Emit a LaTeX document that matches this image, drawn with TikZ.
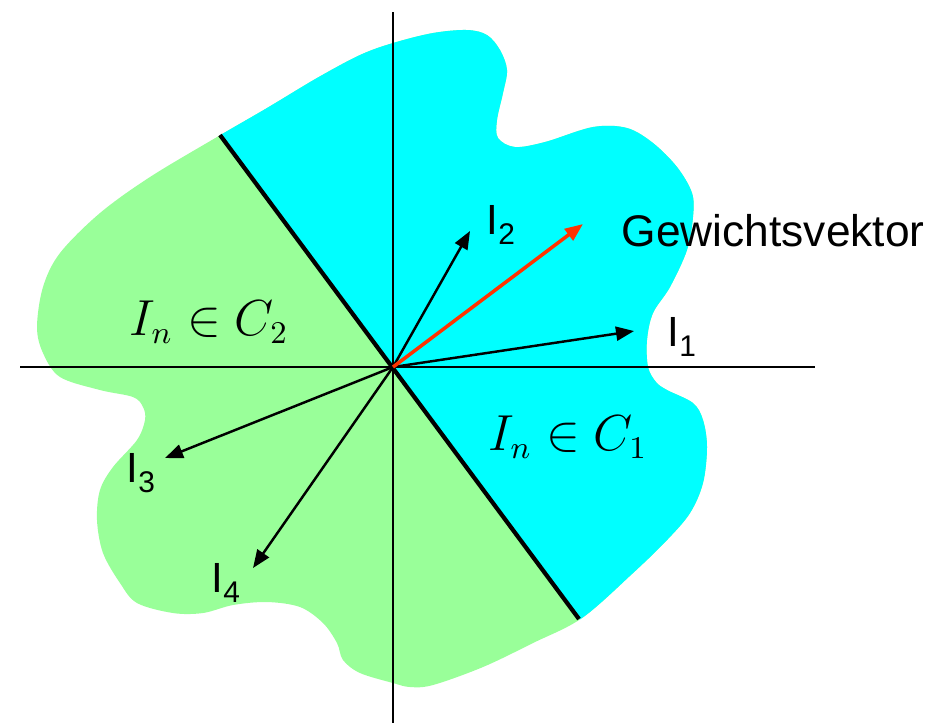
\documentclass[tikz,border=0pt]{standalone}
\usepackage{fontspec}
\setsansfont{Liberation Sans}
\usetikzlibrary{arrows.meta}
\definecolor{regcyan}{RGB}{0,255,255}
\definecolor{reggreen}{RGB}{153,255,153}
\definecolor{wred}{RGB}{255,51,0}
\newcommand{\vsub}[1]{\raisebox{-0.45ex}{\fontsize{8.5}{9}\selectfont #1}}

\begin{document}
\begin{tikzpicture}[x=0.01cm, y=-0.01cm,
  vec/.style={-{Triangle[length=1.8mm, width=1.4mm]}, line width=0.7pt},
  axis/.style={line width=0.5pt},
  lbl/.style={font=\sffamily\fontsize{12}{14}\selectfont, inner sep=0pt},
  cls/.style={font=\fontsize{13.5}{15}\selectfont, inner sep=0pt}
]
  \useasboundingbox (0,0) rectangle (946,723);
  \def\blob{plot[smooth cycle, tension=0.55] coordinates {
    (393,43) (433,33) (467,30) (487,35) (500,50) (507,70) (503,93) (497,120)
    (498,138) (515,147) (545,142) (593,127) (627,128) (653,143) (677,167)
    (692,193) (693,217) (687,250) (670,287) (653,313) (647,340) (648,367)
    (656,382) (667,390) (693,403) (703,420)
    (707,447) (703,483) (690,513) (667,540) (633,573) (582,618) (533,643)
    (483,667) (433,685) (410,687) (393,683) (360,673) (343,660) (337,643)
    (323,623) (300,607) (267,602) (233,605) (203,613) (173,613) (137,603)
    (120,583) (103,553) (97,520) (100,490) (113,467) (137,440) (145,420)
    (143,407) (133,397) (100,390) (60,377)
    (43,353) (37,327) (43,287) (60,253) (100,213) (150,177) (217,137)
    (267,108) (317,78) (360,55)}}

  % regions
  \fill[reggreen] \blob;
  \begin{scope}
    \clip \blob;
    \fill[regcyan] (35,-116) -- (751,850) -- (1000,850) -- (1000,-116) -- cycle;
  \end{scope}

  % axes
  \coordinate (o) at (393,367);
  \coordinate (ytop) at (393,12);
  \coordinate (ybot) at (393,723);
  \coordinate (xl) at (20,367);
  \coordinate (xr) at (815,367);
  \draw[axis] (ytop) -- (ybot);
  \draw[axis] (xl) -- (xr);

  % class border
  \coordinate (bd1) at (220,135);
  \coordinate (bd2) at (579,619);
  \draw[line width=1.2pt] (bd1) -- (bd2);

  % vectors
  \coordinate (i1) at (634,331);
  \coordinate (i2) at (470,231);
  \coordinate (i3) at (165,458);
  \coordinate (i4) at (253,568);
  \coordinate (w) at (583,224);
  \draw[vec] (o) -- (i1);
  \draw[vec] (o) -- (i2);
  \draw[vec] (o) -- (i3);
  \draw[vec] (o) -- (i4);
  \draw[vec, wred, line width=1pt] (o) -- (w);

  % labels
  \node[lbl, anchor=base west] (li1) at (667,346) {I\vsub{1}};
  \node[lbl, anchor=base west] (li2) at (486,234) {I\vsub{2}};
  \node[lbl, anchor=base west] (li3) at (126,482) {I\vsub{3}};
  \node[lbl, anchor=base west] (li4) at (211,592) {I\vsub{4}};
  \node[lbl, anchor=base west, font=\sffamily\fontsize{12.6}{14}\selectfont] (lw) at (621,246) {Gewichtsvektor};
  \node[cls] (c2) at (209,322) {$I_n \in C_2$};
  \node[cls] (c1) at (568,437) {$I_n \in C_1$};
\end{tikzpicture}
\end{document}
